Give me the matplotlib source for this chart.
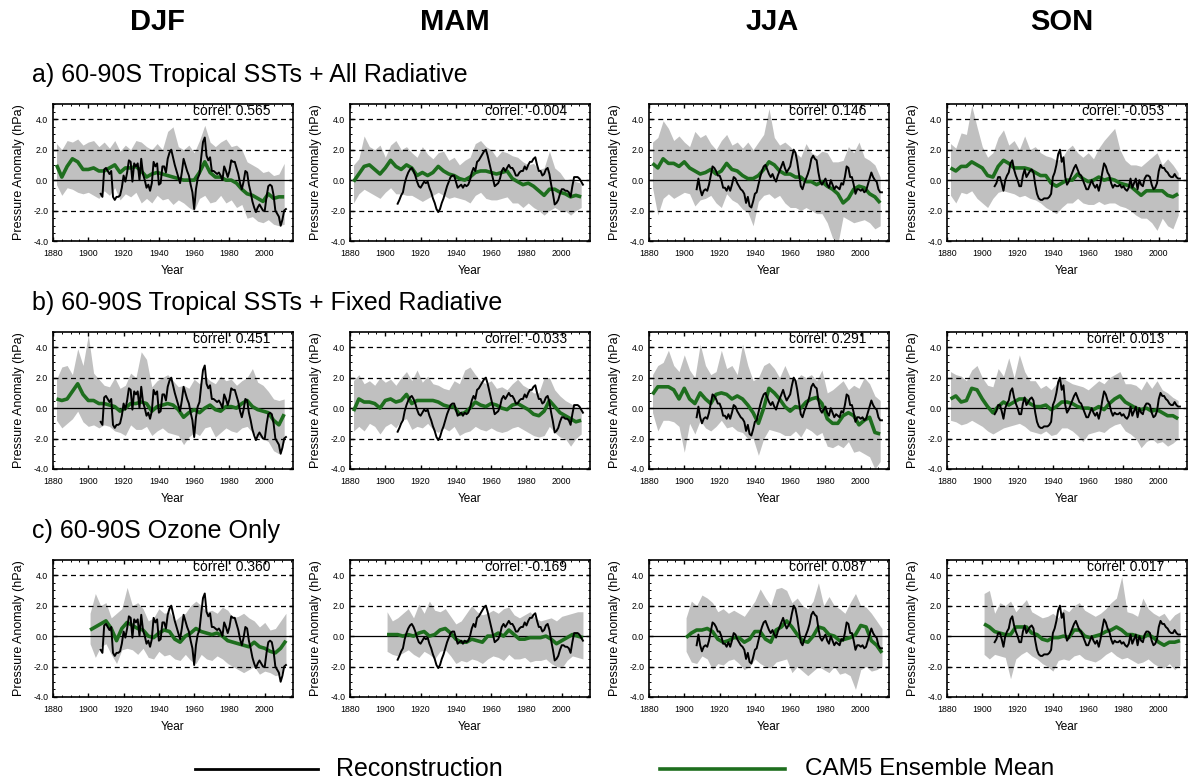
import matplotlib
matplotlib.use("Agg")
import matplotlib.pyplot as plt
from matplotlib.ticker import MultipleLocator, FormatStrFormatter
import numpy as np

plt.rcParams["font.family"] = ["Liberation Sans", "DejaVu Sans"]

seasons = ["DJF", "MAM", "JJA", "SON"]
row_titles = [
    "a) 60-90S Tropical SSTs + All Radiative",
    "b) 60-90S Tropical SSTs + Fixed Radiative",
    "c) 60-90S Ozone Only",
]
correls = [
    ["0.565", "-0.004", "0.146", "-0.053"],
    ["0.451", "-0.033", "0.291", "0.013"],
    ["0.360", "-0.169", "0.087", "0.017"],
]

# reconstruction (same in every row), annual 1907-2012
recon_years = np.arange(1907, 2013)
recon_djf = [-0.9, -1.1, 0.7,
             0.8, 0.6, 0.4, 0.6, -1.1, -1.3, -1.1, -1.1, -1.0, -0.5,
             0.3, -0.1, 0.5, 1.3, 1.2, -0.1, 1.1, 0.9, 1.1, 0.0,
             1.4, 0.4, 0.0, -0.5, -0.3, -0.7, -0.2, 1.2, 0.9, 1.1,
             -0.3, -0.2, 0.9, 0.9, 0.5, 1.4, 1.8, 2.0, 1.5, 1.0,
             0.6, 0.2, -0.2, 0.5, 1.4, 1.0, 0.6, 0.3, -0.3, -0.8,
             -1.9, -0.6, 0.1, 0.4, 1.5, 2.5, 2.8, 1.6, 1.3, 1.5,
             0.6, 0.6, 0.5, 0.4, 0.5, 0.3, 0.0, 0.9, 0.6, 0.2,
             0.6, 1.3, 1.2, 1.2, 0.8, 0.4, -0.2, -0.6, -0.1, 0.6,
             0.5, -0.3, -0.8, -1.4, -1.8, -2.1, -1.8, -1.6, -1.8, -2.0,
             -2.0, -1.1, -0.4, -0.3, -0.4, -1.0, -2.0, -2.2, -2.4, -3.0,
             -2.6, -2.0, -1.9]
recon_mam = [-1.55, -1.3, -1.0,
             -0.8, -0.2, 0.2, 0.5, 0.7, 0.8, 0.6, 0.3, -0.1, -0.4,
             -0.5, -0.3, -0.1, -0.2, -0.1, -0.5, -0.8, -1.2, -1.5, -1.9,
             -2.1, -1.9, -1.5, -1.2, -0.8, -0.4, -0.1, 0.2, 0.3, 0.3,
             -0.1, -0.5, -0.4, -0.3, -0.5, -0.3, -0.4, -0.3, 0.0, 0.5,
             0.8, 0.6, 1.2, 1.3, 1.5, 1.7, 1.9, 2.0, 1.6, 1.1,
             0.6, 0.1, -0.4, -0.3, -0.2, 0.1, 0.6, 0.8, 0.6, 0.8,
             1.0, 0.8, 0.8, 0.6, 0.3, 0.3, 0.5, 0.6, 0.6, 0.9,
             0.7, 1.0, 1.2, 1.2, 1.4, 1.5, 1.0, 0.6, 0.6, 0.3,
             0.4, 0.7, 0.8, 0.4, -0.3, -0.9, -1.6, -1.5, -1.3, -0.9,
             -0.6, -0.6, -0.7, -0.7, -0.8, -1.1, -0.4, 0.2, 0.2, 0.2,
             0.1, -0.1, -0.3]
recon_jja = [-0.6, 0.1, -0.6,
             -1.0, -0.7, -0.6, -0.7, -0.3, 0.3, 0.9, 0.8, 0.6, 0.3,
             0.3, 0.0, -0.5, -0.5, -0.7, -0.4, -0.7, -0.3, 0.2, 0.1,
             -0.2, -0.4, -0.6, -0.7, -0.9, -1.5, -1.1, -1.7, -1.8, -1.4,
             -0.9, -0.8, -0.3, 0.2, 0.6, 0.9, 1.0, 0.7, 0.4, 0.2,
             0.4, 0.1, -0.1, 0.3, 0.6, 0.9, 1.2, 0.8, 0.5, 0.7,
             0.9, 1.5, 2.0, 1.8, 1.2, 0.4, -0.4, -0.6, -0.2, 0.1,
             0.4, 0.8, 1.4, 1.6, 1.4, 1.3, 0.5, -0.1, -0.3, -0.1,
             0.1, -0.3, -0.5, 0.0, -0.3, -0.6, -0.4, -0.5, -0.6, -0.2,
             -0.3, 0.2, 0.9, 0.8, 0.2, 0.2, -0.3, -0.9, -0.6, -0.6,
             -0.7, -0.6, -0.8, -0.7, -0.3, 0.1, 0.5, 0.2, 0.0, -0.1,
             -0.6, -0.8, -0.8]
recon_son = [-0.4, -0.2, 0.2,
             0.2, -0.2, -0.7, 0.0, 0.3, 0.5, 1.1, 1.3, 0.7, 0.3,
             0.0, -0.4, -0.4, 0.3, 0.7, 0.2, 0.4, 0.6, 0.7, 0.5,
             -0.3, -0.9, -1.2, -1.3, -1.3, -1.2, -1.2, -1.2, -1.1, -0.9,
             0.2, 0.5, 1.0, 1.7, 2.0, 1.2, 1.5, 0.2, -0.3, -0.1,
             0.2, 0.5, 0.8, 1.0, 0.7, 0.4, 0.3, 0.0, -0.3, -0.6,
             -0.6, -0.3, 0.0, -0.3, -0.5, -0.3, -0.7, -0.2, 0.5, 1.1,
             0.9, 0.5, 0.3, -0.2, -0.5, -0.3, -0.4, -0.4, -0.3, -0.5,
             -0.4, -0.6, -0.7, -0.5, 0.1, -0.5, -0.2, 0.1, -0.6, 0.0,
             -0.3, -0.4, 0.1, 0.3, 0.3, 0.2, -0.3, -0.6, -0.5, -0.2,
             0.6, 1.0, 0.8, 0.8, 0.6, 0.5, 0.3, 0.2, 0.2, 0.4,
             0.2, 0.1, 0.1]
recon = [recon_djf, recon_mam, recon_jja, recon_son]

# CAM5 ensemble: rows a, b sampled 1882-2011 every 3 yr; row c 1901-2012 every 3 yr
ab_years = np.arange(1882, 2013, 3)
c_years = np.arange(1901, 2013, 3)

a_mean = [
    [1.0, 0.2, 0.9, 1.4, 1.2, 0.7, 0.7, 0.8, 0.6, 0.6, 0.8, 1.0, 0.5, 0.8, 0.8, 0.9, 0.6, 0.2, 0.4, 0.5, 0.4, 0.3,
     0.2, 0.1, 0.0, 0.0, 0.0, 0.5, 1.2, 0.5, 0.2, 0.2, 0.0, 0.0, -0.2, -0.6, -0.9, -1.0, -1.2, -1.4, -0.9, -1.2, -1.1, -1.1],
    [-0.1, 0.4, 0.9, 1.0, 0.7, 0.4, 0.8, 1.3, 0.9, 0.7, 1.0, 0.8, 0.3, 0.5, 0.3, 0.5, 0.9, 0.6, 0.4, 0.3, 0.1, 0.0,
     0.2, 0.5, 0.6, 0.6, 0.5, 0.4, 0.5, 0.6, 0.1, -0.1, -0.3, -0.2, -0.4, -0.7, -1.0, -0.6, -0.6, -0.8, -0.9, -1.1, -1.0, -1.1],
    [1.1, 0.8, 1.4, 1.1, 1.1, 0.9, 1.2, 0.8, 0.6, 0.4, 0.5, 0.7, 0.4, 0.6, 1.1, 0.7, 0.6, 0.3, 0.1, 0.1, 0.3, 0.7,
     1.2, 1.0, 0.6, 0.4, 0.4, 0.2, 0.2, -0.1, -0.1, -0.3, -0.1, -0.4, -0.6, -0.9, -1.5, -1.2, -0.6, -0.4, -0.5, -0.9, -1.1, -1.5],
    [0.8, 0.6, 0.9, 0.9, 1.2, 1.0, 0.8, 0.3, 0.2, 0.9, 1.3, 1.1, 0.8, 0.8, 0.8, 0.7, 0.5, 0.3, 0.3, -0.2, -0.4, -0.2,
     0.0, 0.0, 0.4, 0.1, -0.1, 0.0, 0.2, 0.0, 0.1, 0.0, -0.2, -0.3, -0.4, -0.7, -1.0, -0.7, -0.7, -0.7, -0.7, -1.0, -1.1, -0.9],
]
a_upper = [
    [2.4, 2.0, 2.6, 2.5, 2.7, 2.3, 2.5, 2.6, 2.2, 2.5, 2.1, 2.6, 1.9, 2.3, 2.0, 2.6, 2.5, 2.2, 2.0, 2.4, 2.0, 3.2,
     3.5, 2.2, 2.0, 2.3, 1.8, 2.6, 3.6, 2.5, 2.2, 2.5, 2.7, 2.2, 2.3, 2.0, 1.2, 1.0, 0.8, 0.5, 0.6, 0.3, 0.4, 1.1],
    [1.0, 1.4, 2.9, 2.2, 2.0, 2.3, 1.5, 2.3, 2.6, 2.0, 2.2, 1.8, 1.5, 2.2, 1.7, 1.4, 1.8, 1.9, 1.3, 1.5, 1.0, 1.3,
     1.5, 2.4, 2.6, 2.2, 2.0, 1.5, 1.9, 1.8, 1.6, 1.5, 1.2, 1.0, 1.1, 0.7, 0.8, 1.9, 0.8, 0.5, 0.0, 0.1, -0.1, -0.2],
    [2.5, 2.8, 3.9, 3.4, 2.6, 2.9, 2.5, 2.2, 3.2, 2.8, 3.0, 2.4, 2.0, 2.6, 3.0, 2.3, 2.5, 2.1, 2.5, 2.0, 2.5, 3.0,
     4.7, 2.8, 2.3, 2.5, 2.2, 1.8, 1.5, 2.4, 1.8, 1.6, 1.9, 1.8, 1.2, 1.2, 1.3, 2.2, 1.8, 2.5, 1.5, 1.3, 1.0, 0.2],
    [2.4, 2.1, 3.1, 3.0, 4.9, 3.5, 2.2, 1.5, 1.8, 2.8, 3.3, 2.3, 2.6, 2.0, 2.9, 2.0, 2.2, 1.8, 1.6, 1.5, 1.3, 1.4,
     2.0, 2.3, 1.8, 1.5, 1.8, 1.4, 2.1, 2.6, 3.0, 3.4, 2.0, 1.3, 1.0, 1.0, 0.9, 1.2, 1.5, 1.8, 1.0, 1.4, 1.0, 0.5],
]
a_lower = [
    [-0.3, -1.0, -0.5, -0.6, -0.8, -0.9, -0.8, -1.0, -1.2, -0.7, -1.0, -0.5, -1.3, -0.9, -1.1, -0.8, -1.5, -1.2, -1.5,
     -1.0, -1.3, -1.2, -1.6, -1.3, -1.5, -1.8, -2.0, -1.2, -1.0, -1.5, -1.4, -1.0, -1.5, -1.3, -1.8, -1.6, -2.5, -2.4,
     -2.7, -2.8, -2.6, -2.9, -3.0, -2.9],
    [-1.5, -0.9, -0.6, -0.8, -1.0, -1.2, -0.8, -0.5, -0.9, -0.9, -1.0, -1.0, -1.2, -1.4, -1.2, -1.0, -0.8, -1.0, -1.2,
     -1.1, -1.2, -1.3, -1.5, -1.0, -0.8, -1.2, -1.3, -1.3, -1.2, -1.1, -1.5, -1.5, -1.8, -1.5, -1.8, -2.0, -2.3, -2.0,
     -1.8, -2.0, -2.0, -2.3, -2.0, -1.8],
    [-0.5, -2.3, -1.2, -0.9, -1.2, -1.0, -0.8, -0.9, -1.7, -1.3, -1.2, -1.0, -1.5, -1.8, -0.9, -1.3, -1.5, -1.9, -2.1,
     -3.0, -1.4, -1.0, -0.9, -1.2, -1.0, -1.5, -1.8, -1.8, -2.0, -1.8, -2.0, -2.2, -2.2, -2.8, -3.8, -4.2, -2.4, -2.6,
     -2.8, -2.7, -2.6, -2.8, -3.2, -3.0],
    [-1.0, -1.5, -0.8, -0.9, -0.7, -1.2, -1.5, -1.8, -1.2, -0.8, -0.7, -0.8, -0.9, -1.1, -1.0, -1.2, -1.3, -1.5, -1.8,
     -2.0, -2.2, -1.8, -1.5, -1.5, -1.2, -1.5, -1.6, -1.6, -1.4, -1.6, -1.5, -1.5, -1.7, -1.8, -2.0, -2.3, -2.5, -2.5,
     -2.8, -3.3, -2.5, -3.0, -3.2, -2.3],
]

b_mean = [
    [0.6, 0.5, 0.6, 1.1, 1.6, 0.9, 0.5, 0.5, 0.3, 0.3, 0.2, 0.1, -0.2, 0.0, 0.3, 0.3, 0.4, 0.3, -0.2, 0.1, 0.2, 0.3,
     0.2, -0.1, -0.6, -0.3, -0.1, -0.3, 0.0, 0.2, -0.1, -0.2, 0.1, 0.1, 0.0, 0.3, 0.5, 0.1, -0.1, -0.2, -0.3, -0.8, -1.1, -0.4],
    [-0.2, 0.6, 0.4, 0.4, 0.3, 0.0, 0.5, 0.6, 0.4, 0.5, 0.9, 0.3, 0.5, 0.5, 0.5, 0.5, 0.4, 0.2, 0.1, 0.1, -0.4, -0.3,
     0.0, 0.4, 0.2, 0.1, 0.3, 0.2, 0.0, -0.1, 0.2, 0.3, 0.1, -0.1, -0.4, -0.5, -0.2, 0.5, 0.1, -0.3, -0.5, -0.7, -0.9, -0.8],
    [0.9, 1.4, 1.4, 1.4, 1.2, 0.6, 1.3, 0.6, 0.3, 1.0, 0.6, 0.3, 0.9, 1.0, 0.9, 0.6, 0.8, 0.6, 0.2, -0.3, -1.0, 0.0,
     1.3, 1.0, 0.6, 0.1, -0.2, 0.1, 0.0, 0.4, 0.6, 0.7, 0.3, -0.7, -1.0, -1.0, -0.5, -0.3, -0.5, -1.1, -0.8, -0.6, -1.6, -1.7],
    [0.6, 0.8, 0.4, 0.5, 1.3, 1.2, 0.6, 0.1, -0.3, 0.1, 0.4, 0.2, 0.4, 0.6, 0.6, 0.3, 0.1, 0.1, 0.2, -0.1, 0.1, 0.4,
     0.4, 0.3, 0.1, 0.0, 0.0, -0.1, 0.1, -0.1, 0.3, 0.6, 0.8, 0.4, 0.2, 0.0, -0.1, 0.0, -0.2, -0.1, -0.3, -0.5, -0.5, -0.7],
]
b_upper = [
    [1.9, 2.7, 2.8, 2.2, 3.9, 2.8, 4.8, 2.3, 1.9, 1.5, 1.4, 2.0, 1.3, 1.5, 2.3, 2.0, 3.7, 3.2, 1.4, 1.8, 2.0, 2.2,
     1.8, 1.4, 1.5, 1.3, 1.9, 1.6, 2.1, 1.8, 1.6, 2.1, 1.8, 1.9, 1.5, 1.8, 2.0, 2.6, 1.7, 1.5, 1.1, 0.6, 0.5, 0.6],
    [1.8, 2.2, 1.6, 1.8, 1.5, 2.0, 1.7, 1.9, 1.5, 2.0, 2.4, 1.8, 2.5, 1.7, 2.1, 1.6, 1.5, 1.3, 1.2, 1.8, 1.6, 2.5,
     2.7, 2.2, 1.8, 1.6, 1.8, 1.3, 1.4, 1.2, 1.6, 1.9, 1.5, 1.3, 1.0, 1.0, 2.0, 2.0, 1.2, 0.8, 0.5, 0.3, 0.1, 0.0],
    [2.2, 2.8, 3.0, 3.8, 2.8, 2.4, 3.5, 2.5, 2.0, 4.2, 2.8, 2.2, 2.4, 3.8, 2.6, 2.8, 2.2, 4.2, 2.8, 1.8, 2.0, 2.8,
     3.0, 2.6, 2.0, 2.8, 2.0, 1.8, 2.2, 2.0, 2.2, 1.8, 2.5, 1.0, 1.2, 1.5, 1.8, 1.2, 1.5, 1.3, 2.0, 1.6, 0.8, 0.5],
    [2.4, 2.2, 2.1, 1.8, 2.5, 2.8, 2.0, 1.5, 1.4, 2.6, 2.1, 3.3, 2.0, 3.5, 2.4, 1.8, 1.8, 1.3, 1.5, 1.2, 1.6, 2.0,
     1.8, 1.6, 1.5, 1.4, 1.2, 1.5, 1.8, 1.6, 2.0, 2.2, 2.4, 1.6, 1.6, 1.5, 1.2, 1.8, 1.3, 1.8, 1.2, 1.0, 0.7, 0.5],
]
b_lower = [
    [-0.8, -1.3, -1.0, -0.7, -0.2, -0.9, -1.2, -1.1, -1.3, -1.1, -1.2, -1.5, -1.6, -1.8, -1.1, -1.4, -1.4, -1.2, -1.8,
     -1.5, -1.3, -1.6, -1.7, -1.8, -2.4, -1.9, -1.6, -1.8, -1.3, -1.2, -1.9, -1.6, -1.3, -1.5, -1.6, -1.3, -1.2, -1.6,
     -1.9, -2.0, -2.2, -2.8, -3.0, -2.2],
    [-1.5, -1.2, -1.5, -1.0, -1.2, -1.7, -1.2, -1.0, -1.3, -0.8, -0.7, -1.4, -1.2, -1.3, -1.0, -1.4, -1.6, -1.3, -1.5,
     -1.2, -1.8, -1.6, -1.5, -1.2, -1.4, -1.5, -1.3, -1.5, -1.6, -1.5, -1.3, -1.2, -1.4, -1.6, -1.8, -1.9, -1.8, -1.2,
     -1.6, -1.9, -2.0, -2.5, -2.0, -1.7],
    [-0.3, -1.5, -0.8, -0.8, -0.9, -1.2, -2.9, -1.0, -1.7, -0.8, -1.3, -1.5, -1.2, -0.8, -1.3, -1.2, -1.5, -1.6, -2.0,
     -2.0, -3.1, -2.0, -1.4, -1.5, -1.6, -1.8, -1.8, -1.5, -1.9, -1.3, -1.5, -1.8, -1.6, -2.5, -2.6, -2.4, -2.6, -2.2,
     -2.9, -2.8, -3.0, -3.2, -4.0, -3.5],
    [-0.8, -0.9, -1.1, -1.0, -0.8, -1.0, -1.2, -1.5, -1.7, -1.5, -1.3, -1.2, -1.1, -1.0, -1.2, -1.5, -1.6, -1.7, -1.5,
     -1.8, -1.7, -1.3, -1.3, -1.5, -1.8, -2.2, -1.7, -1.6, -1.5, -1.6, -1.3, -1.1, -1.0, -1.5, -1.7, -2.0, -2.6, -2.2,
     -2.0, -2.3, -2.2, -2.5, -2.3, -2.0],
]

c_mean = [
    [0.4, 0.6, 0.8, 1.0, 0.5, -0.3, 0.5, 0.9, 0.7, 0.5, 0.4, 0.0, -0.1, 0.2, 0.4, 0.3, -0.2, -0.4, 0.0, 0.2, 0.5,
     0.3, 0.2, 0.1, 0.2, 0.0, -0.3, -0.4, -0.5, -0.6, -0.7, -0.4, -0.7, -0.8, -1.0, -1.1, -0.8, -0.3],
    [0.1, 0.1, 0.1, 0.0, 0.1, 0.0, 0.2, 0.3, 0.0, 0.1, 0.4, 0.5, 0.2, -0.2, -0.4, -0.4, -0.2, -0.3, -0.4, 0.0, 0.0,
     0.2, 0.0, 0.4, 0.1, -0.2, -0.2, -0.1, -0.1, -0.1, 0.0, -0.2, -0.5, -0.3, -0.1, 0.1, 0.0, -0.1],
    [-0.1, 0.2, 0.4, 0.4, 0.5, 0.3, -0.2, -0.4, -0.3, -0.1, -0.1, -0.4, -0.2, 0.3, 0.3, -0.2, -0.4, 0.4, 0.6, 1.0, 0.6,
     0.1, -0.3, -0.4, 0.0, 0.6, 0.5, 0.1, 0.0, -0.3, -0.2, -0.1, 0.1, 0.7, 0.6, -0.3, -0.6, -1.1],
    [0.8, 0.6, 0.3, 0.2, 0.1, 0.1, 0.6, 0.6, 0.6, 0.2, 0.1, -0.2, -0.3, -0.1, -0.1, 0.0, -0.1, 0.4, 0.4, 0.0, -0.1,
     0.0, 0.1, 0.3, 0.4, 0.6, 0.4, 0.1, 0.1, 0.0, -0.1, 0.1, -0.1, -0.4, -0.6, -0.4, -0.4, -0.3],
]
c_upper = [
    [1.5, 2.8, 2.0, 2.2, 1.2, 1.5, 1.8, 3.2, 2.0, 2.2, 1.8, 1.0, 1.2, 1.8, 1.5, 1.6, 1.0, 1.3, 1.5, 2.0, 2.3,
     2.0, 1.6, 1.7, 1.5, 1.9, 1.7, 1.2, 1.3, 1.5, 1.2, 1.0, 0.6, 0.9, 0.4, 0.5, 1.0, 1.5],
    [1.6, 1.0, 1.2, 1.5, 1.8, 1.2, 2.1, 1.5, 2.3, 1.7, 1.6, 1.8, 1.3, 0.8, 1.0, 1.5, 2.0, 1.6, 1.4, 1.5, 1.7,
     1.5, 1.8, 1.9, 1.4, 1.2, 1.4, 1.6, 1.2, 1.0, 1.1, 1.2, 1.0, 1.3, 1.4, 1.5, 1.6, 1.6],
    [1.2, 2.3, 2.0, 2.7, 2.5, 2.2, 1.6, 1.8, 1.5, 1.7, 1.5, 1.3, 1.8, 2.3, 3.1, 2.5, 2.0, 3.1, 3.2, 3.0, 2.2,
     2.5, 2.0, 1.8, 2.3, 3.5, 2.0, 2.6, 2.0, 1.8, 1.5, 2.2, 2.8, 2.0, 1.9, 1.5, 1.0, 0.5],
    [2.8, 3.0, 1.5, 2.2, 2.0, 2.3, 1.6, 2.0, 2.4, 1.6, 1.4, 1.2, 1.3, 1.5, 1.2, 1.8, 1.6, 2.0, 2.2, 1.7, 1.5,
     1.3, 1.5, 1.8, 2.2, 2.5, 3.9, 1.6, 1.5, 1.3, 2.5, 1.8, 1.5, 1.3, 1.5, 1.0, 1.4, 1.6],
]
c_lower = [
    [-0.5, -1.4, -0.7, -0.5, -1.2, -1.8, -0.9, -0.8, -0.9, -1.2, -0.8, -1.4, -1.5, -1.0, -1.3, -1.2, -1.5, -1.6, -1.2,
     -1.6, -1.8, -1.2, -1.5, -1.6, -1.3, -1.5, -1.8, -2.0, -2.2, -2.4, -2.2, -2.0, -2.5, -2.3, -2.4, -2.6, -2.5, -1.8],
    [-1.0, -1.2, -1.3, -1.1, -0.9, -1.2, -1.4, -1.0, -1.2, -1.5, -1.0, -0.9, -1.3, -1.8, -1.6, -1.7, -1.5, -1.6, -1.8,
     -1.5, -1.3, -1.4, -1.6, -1.2, -1.5, -1.5, -1.4, -1.7, -1.6, -1.6, -1.5, -1.8, -2.0, -2.1, -1.6, -1.3, -1.4, -1.5],
    [-1.0, -1.7, -1.8, -1.3, -1.5, -2.2, -1.8, -1.9, -1.6, -1.5, -1.8, -2.2, -2.0, -1.5, -1.8, -2.0, -2.1, -1.7, -1.6,
     -1.5, -2.4, -2.0, -2.3, -2.6, -2.3, -2.0, -2.2, -2.4, -2.0, -2.5, -2.4, -2.6, -3.5, -2.2, -2.0, -2.3, -2.2, -2.0],
    [-1.2, -1.5, -1.2, -1.3, -1.4, -2.8, -1.5, -1.2, -1.0, -1.3, -1.5, -1.8, -2.0, -2.3, -1.6, -1.5, -1.6, -1.3, -1.2,
     -1.5, -1.6, -1.7, -1.5, -1.2, -1.0, -1.3, -1.5, -1.4, -1.6, -1.8, -1.7, -1.5, -1.8, -2.0, -2.1, -1.8, -2.2, -1.9],
]

rows = [
    (ab_years, a_mean, a_upper, a_lower),
    (ab_years, b_mean, b_upper, b_lower),
    (c_years, c_mean, c_upper, c_lower),
]

green = "#1e6e1e"
band = "#c0c0c0"

fig = plt.figure(figsize=(11.88, 7.83), dpi=100)
W, H = 1188, 783
col_left = [53, 350, 649, 947]
row_top = [104, 332, 560]
ax_w, ax_h = 240, 137

for r, (yrs, means, ups, lows) in enumerate(rows):
    for c in range(4):
        ax = fig.add_axes([col_left[c] / W, 1 - (row_top[r] + ax_h) / H, ax_w / W, ax_h / H])
        ax.fill_between(yrs, lows[c], ups[c], color=band, lw=0, zorder=1)
        for yv in (-4, -2, 2, 4):
            ax.axhline(yv, color="black", lw=0.9, ls=(0, (4, 3)), zorder=2)
        ax.axhline(0, color="black", lw=0.9, zorder=2)
        ax.plot(yrs, means[c], color=green, lw=2.6, zorder=3, solid_capstyle="butt")
        ax.plot(recon_years, recon[c], color="black", lw=1.4, zorder=4)
        ax.set_xlim(1880, 2016)
        ax.set_ylim(-4, 5)
        ax.set_xticks(np.arange(1880, 2001, 20))
        ax.xaxis.set_minor_locator(MultipleLocator(5))
        ax.set_yticks([-4, -2, 0, 2, 4])
        ax.yaxis.set_minor_locator(MultipleLocator(0.5))
        ax.yaxis.set_major_formatter(FormatStrFormatter("%.1f"))
        ax.tick_params(which="both", direction="in", top=True, right=True, labelsize=6.3)
        ax.tick_params(axis="x", pad=6)
        ax.tick_params(axis="y", pad=3.5)
        ax.tick_params(which="major", length=3, width=1)
        ax.tick_params(which="minor", length=1.5, width=0.7)
        for s in ax.spines.values():
            s.set_linewidth(1.2)
        ax.set_ylabel("Pressure Anomaly (hPa)", fontsize=9, labelpad=6)
        ax.set_xlabel("Year", fontsize=8.5, labelpad=5)
        ax.text(0.905, 4.05, "correl: " + correls[r][c], transform=ax.get_yaxis_transform(),
                ha="right", va="bottom", fontsize=10)

season_x = [158, 455, 772, 1062]
for sx, s in zip(season_x, seasons):
    fig.text(sx / W, 1 - 22 / H, s, ha="center", va="center", fontsize=21, fontweight="bold")

title_y = [75, 303, 531]
for ty, t in zip(title_y, row_titles):
    fig.text(32 / W, 1 - ty / H, t, ha="left", va="center", fontsize=18)

# legend at the bottom
leg = fig.add_axes([0, 0, 1, 0.06])
leg.set_xlim(0, W)
leg.set_ylim(0, 1)
leg.axis("off")
leg.plot([195, 318], [0.3, 0.3], color="black", lw=2)
leg.text(336, 0.3, "Reconstruction", fontsize=18, va="center", ha="left")
leg.plot([660, 785], [0.3, 0.3], color=green, lw=2.6)
leg.text(805, 0.3, "CAM5 Ensemble Mean", fontsize=17.5, va="center", ha="left")

fig.savefig("out.png", dpi=100)
